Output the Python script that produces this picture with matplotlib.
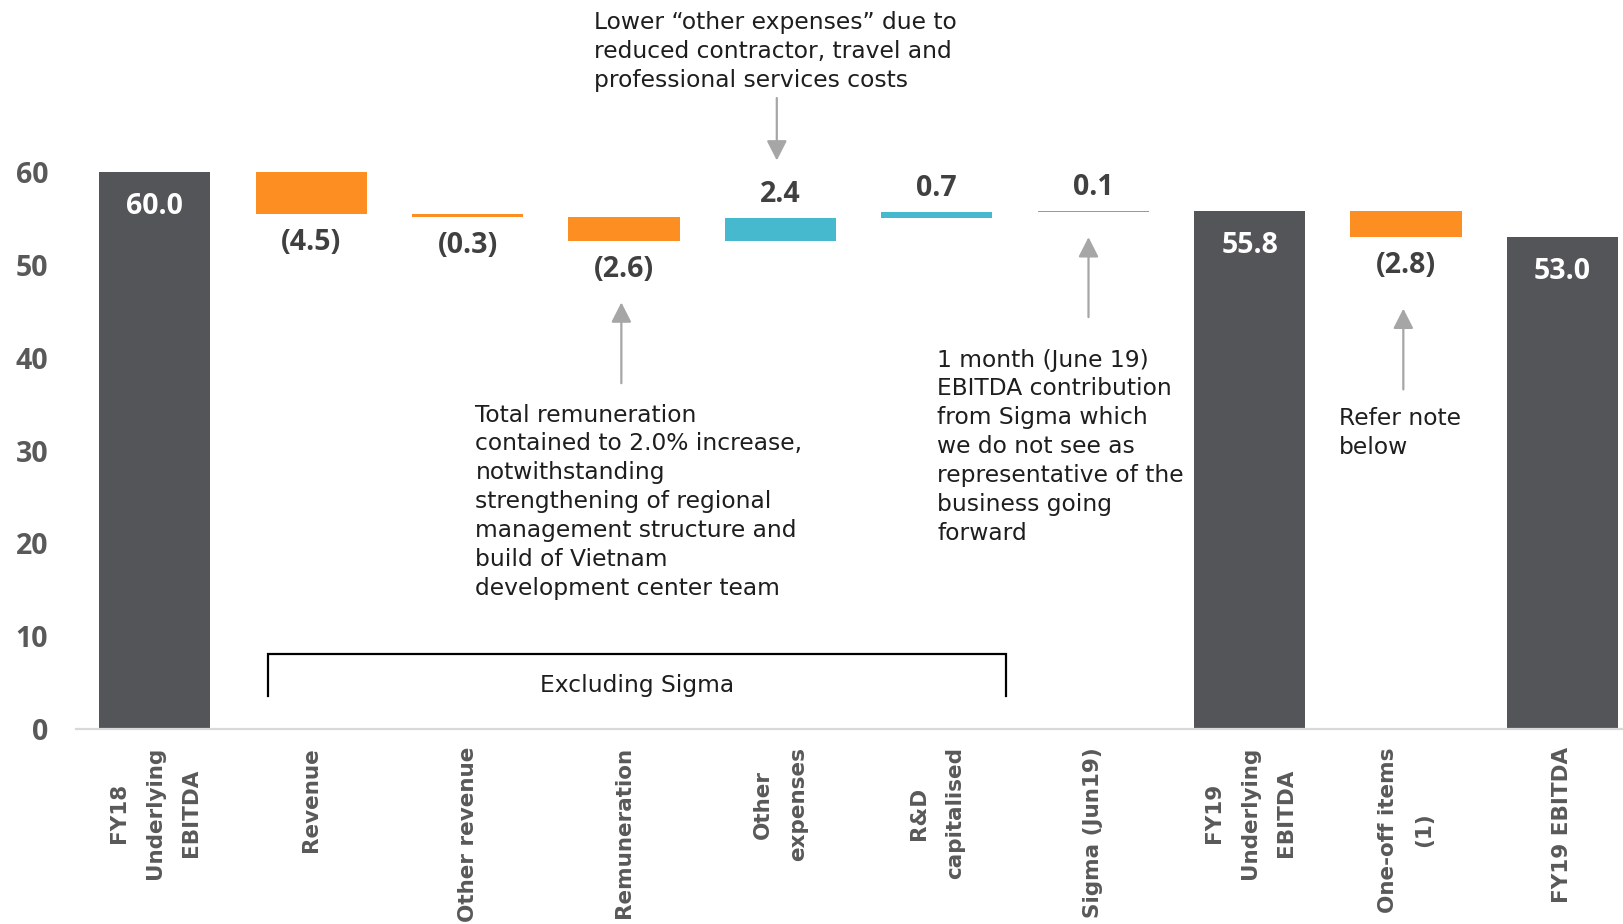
import matplotlib
matplotlib.use("Agg")
import matplotlib.pyplot as plt
from matplotlib.patches import Rectangle

# ---------------- data ----------------
categories = ['FY18\nUnderlying\nEBITDA', 'Revenue', 'Other revenue', 'Remuneration',
              'Other\nexpenses', 'R&D\ncapitalised', 'Sigma (Jun19)',
              'FY19\nUnderlying\nEBITDA', 'One-off items\n(1)', 'FY19 EBITDA']
values = [60.0, -4.5, -0.3, -2.6, 2.4, 0.7, 0.1, 55.8, -2.8, 53.0]
is_total = [True, False, False, False, False, False, False, True, False, True]
value_labels = ['60.0', '(4.5)', '(0.3)', '(2.6)', '2.4', '0.7', '0.1', '55.8', '(2.8)', '53.0']
yticks = [0, 10, 20, 30, 40, 50, 60]

note_top = 'Lower \u201cother expenses\u201d due to\nreduced contractor, travel and\nprofessional services costs'
note_rem = ('Total remuneration\ncontained to 2.0% increase,\nnotwithstanding\nstrengthening of regional\n'
            'management structure and\nbuild of Vietnam\ndevelopment center team')
note_sigma = ('1 month (June 19)\nEBITDA contribution\nfrom Sigma which\nwe do not see as\n'
              'representative of the\nbusiness going\nforward')
note_oneoff = 'Refer note\nbelow'
bracket_label = 'Excluding Sigma'

# ---------------- style ----------------
C_TOTAL = '#545558'
C_NEG = '#FD8E22'
C_POS = '#46B9CE'
C_TICK = '#595959'
C_LABEL = '#404040'
C_ARROW = '#A6A6A6'
C_TEXT = '#1E1E1E'
NUM_FONT = ['Open Sans', 'DejaVu Sans']
NOTE_FONT = ['DejaVu Sans']
NOTE_SIZE = 16.8
NOTE_LS = 1.33

fig = plt.figure(figsize=(16.24, 9.24), dpi=100)
ax = fig.add_axes([76 / 1624, 1 - 729 / 924, 1 - 76 / 1624, (729 - 172) / 924])

x = list(range(len(values)))
bottoms, heights, colors = [], [], []
running = 0.0
for v, tot in zip(values, is_total):
    if tot:
        bottoms.append(0.0)
        heights.append(v)
        colors.append(C_TOTAL)
        running = v
    else:
        if v < 0:
            bottoms.append(running + v)
            colors.append(C_NEG)
        else:
            bottoms.append(running)
            colors.append(C_POS)
        heights.append(abs(v))
        running += v

ax.bar(x, heights, bottom=bottoms, width=0.71, color=colors, linewidth=0)

for xi, b, h, v, tot, lab in zip(x, bottoms, heights, values, is_total, value_labels):
    if tot:
        ax.annotate(lab, (xi, b + h), xytext=(0, -25), textcoords='offset points',
                    ha='center', va='center', color='white', fontsize=20.5,
                    fontweight='bold', family=NUM_FONT)
    elif v < 0:
        ax.annotate(lab, (xi, b), xytext=(0, -20.5), textcoords='offset points',
                    ha='center', va='center', color=C_LABEL, fontsize=20.5,
                    fontweight='bold', family=NUM_FONT)
    else:
        ax.annotate(lab, (xi, b + h), xytext=(0, 17), textcoords='offset points',
                    ha='center', va='center', color=C_LABEL, fontsize=20.5,
                    fontweight='bold', family=NUM_FONT)

ax.set_xlim(-0.504, 9.394)
ax.set_ylim(0, 60)
ax.set_yticks(yticks)
ax.set_yticklabels([str(t) for t in yticks], color=C_TICK, fontsize=20.5,
                   fontweight='bold', family=NUM_FONT)
ax.set_xticks(x)
ax.set_xticklabels(categories, rotation=90, ma='center', color=C_TICK, fontsize=15.5,
                   fontweight='bold', family=['DejaVu Sans'], linespacing=2.0)
ax.tick_params(axis='y', length=0, pad=20)
ax.tick_params(axis='x', length=0, pad=13)
for s in ['top', 'right', 'left']:
    ax.spines[s].set_visible(False)
ax.spines['bottom'].set_color('#D9D9D9')
ax.spines['bottom'].set_linewidth(1.6)

arrow_kw = dict(arrowstyle='-|>,head_length=0.55,head_width=0.28', color=C_ARROW,
                lw=1.6, mutation_scale=22, shrinkA=0, shrinkB=0)

# notes and arrows
ax.text(2.805, 72.95, note_top, ha='left', va='center', fontsize=NOTE_SIZE, color=C_TEXT,
        family=NOTE_FONT, linespacing=NOTE_LS, clip_on=False)
ax.annotate('', xy=(3.977, 61.24), xytext=(3.977, 67.97), arrowprops=arrow_kw,
            annotation_clip=False)

ax.text(2.05, 24.47, note_rem, ha='left', va='center', fontsize=NOTE_SIZE, color=C_TEXT,
        family=NOTE_FONT, linespacing=NOTE_LS)
ax.annotate('', xy=(2.983, 45.95), xytext=(2.983, 37.25), arrowprops=arrow_kw)

ax.text(5.003, 30.39, note_sigma, ha='left', va='center', fontsize=NOTE_SIZE, color=C_TEXT,
        family=NOTE_FONT, linespacing=NOTE_LS)
ax.annotate('', xy=(5.97, 52.98), xytext=(5.97, 44.37), arrowprops=arrow_kw)

ax.text(7.572, 31.9, note_oneoff, ha='left', va='center', fontsize=NOTE_SIZE, color=C_TEXT,
        family=NOTE_FONT, linespacing=NOTE_LS)
ax.annotate('', xy=(7.983, 45.28), xytext=(7.983, 36.58), arrowprops=arrow_kw)

# bracket
ax.plot([0.725, 0.725, 5.44, 5.44], [3.55, 8.04, 8.04, 3.55], color='black', lw=1.6,
        solid_joinstyle='miter')
clip = Rectangle((0.7, 3.55), 5.0, 10, transform=ax.transData, visible=False)
ax.add_patch(clip)
t = ax.text(3.083, 4.67, bracket_label, ha='center', va='center', fontsize=NOTE_SIZE,
            color=C_TEXT, family=NOTE_FONT)
t.set_clip_path(clip)

fig.savefig('out.png', dpi=100)
